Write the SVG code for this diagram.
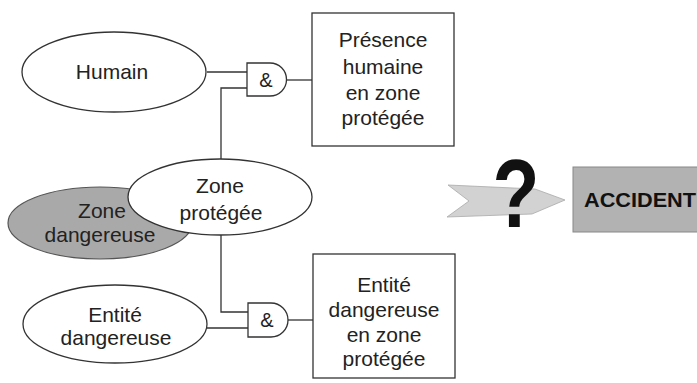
<svg xmlns="http://www.w3.org/2000/svg" width="697" height="383" viewBox="0 0 697 383">
<defs>
<style>
.t{font-family:"Liberation Sans",Arial,sans-serif;font-size:21px;fill:#222;text-anchor:middle}
.amp{font-family:"Liberation Sans",Arial,sans-serif;font-size:20px;fill:#222;text-anchor:middle}
.el{fill:#fff;stroke:#333;stroke-width:1.3}
.box{fill:#fff;stroke:#333;stroke-width:1.3}
.gate{fill:#fff;stroke:#333;stroke-width:1.3}
.ln{fill:none;stroke:#333;stroke-width:1.3}
</style>
</defs>
<rect width="697" height="383" fill="#fff"/>
<g id="connectors">
<path class="ln" d="M207,72 H247"/>
<path class="ln" d="M221,159 V88 H247"/>
<path class="ln" d="M287,80 H312"/>
<path class="ln" d="M221,235 V312 H248"/>
<path class="ln" d="M207,328 H248"/>
<path class="ln" d="M288,320 H313"/>
</g>
<g id="zone-dangereuse">
<ellipse cx="100" cy="223" rx="92" ry="36" fill="#a9a9a9" stroke="#555" stroke-width="1.2"/>
<text class="t" x="102" y="218">Zone</text>
<text class="t" x="100" y="242">dangereuse</text>
</g>
<g id="zone-protegee">
<ellipse class="el" cx="220" cy="197" rx="92" ry="38"/>
<text class="t" x="220" y="193">Zone</text>
<text class="t" x="221" y="220">protégée</text>
</g>
<g id="humain">
<ellipse class="el" cx="114" cy="72" rx="92" ry="40"/>
<text class="t" x="112" y="79">Humain</text>
</g>
<g id="entite-dangereuse">
<ellipse class="el" cx="115" cy="324" rx="92" ry="39"/>
<text class="t" x="115" y="322">Entité</text>
<text class="t" x="116" y="345">dangereuse</text>
</g>
<g id="gate1">
<path class="gate" d="M247,63 H270 A16.5,16.5 0 0 1 270,96 H247 Z"/>
<text class="amp" x="266" y="87">&amp;</text>
</g>
<g id="gate2">
<path class="gate" d="M248,303 H271 A17,17 0 0 1 271,337 H248 Z"/>
<text class="amp" x="267" y="327">&amp;</text>
</g>
<g id="presence-humaine">
<rect class="box" x="312" y="13" width="142" height="133"/>
<text class="t" x="383" y="47">Présence</text>
<text class="t" x="383" y="74">humaine</text>
<text class="t" x="383" y="100">en zone</text>
<text class="t" x="383" y="125">protégée</text>
</g>
<g id="entite-en-zone">
<rect class="box" x="313" y="254" width="142" height="124"/>
<text class="t" x="384" y="292">Entité</text>
<text class="t" x="384" y="317">dangereuse</text>
<text class="t" x="384" y="342">en zone</text>
<text class="t" x="384" y="366">protégée</text>
</g>
<g id="question-arrow">
<path d="M448,185 L535,189 L565,200 L532,214 L447,217 L469,201 Z" fill="#d2d2d2" stroke="#aaa" stroke-width="0.8"/>
<text x="516" y="227" font-family="Liberation Sans,Arial,sans-serif" font-weight="bold" font-size="96" fill="#111" text-anchor="middle" transform="translate(516 0) scale(0.8 1) translate(-516 0)">?</text>
</g>
<g id="accident">
<rect x="573" y="167" width="130" height="65" fill="#b2b2b2" stroke="#888" stroke-width="1"/>
<text x="584" y="207" font-family="Liberation Sans,Arial,sans-serif" font-weight="bold" font-size="21" fill="#111" textLength="112" lengthAdjust="spacingAndGlyphs">ACCIDENT</text>
</g>
</svg>
